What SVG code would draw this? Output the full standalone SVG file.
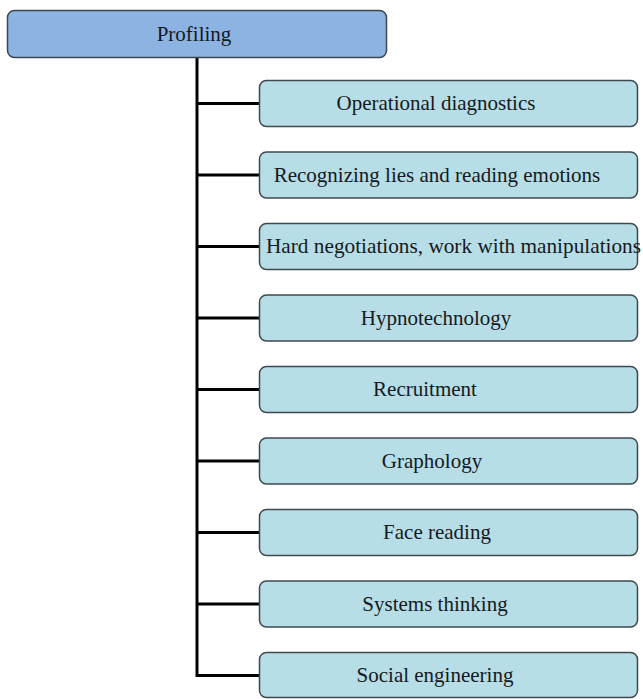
<svg xmlns="http://www.w3.org/2000/svg" width="643" height="699" viewBox="0 0 643 699">
<style>
.root{fill:#8DB3E2;stroke:#3f4650;stroke-width:1.5}
.box{fill:#B7DDE6;stroke:#3f4a4e;stroke-width:1.5}
.t{font-family:"Liberation Serif","Times New Roman",serif;font-size:21px;fill:#141a22;text-anchor:middle}
.c{stroke:#000;stroke-width:3;fill:none}
</style>
<rect width="643" height="699" fill="#fff"/>
<g id="connectors">
<path class="c" d="M197 58V677"/>
<path class="c" d="M197 103.5H259M197 175H259M197 246.5H259M197 318H259M197 389.5H259M197 461H259M197 532.5H259M197 604H259M197 675.5H259"/>
</g>
<g id="n0"><rect class="root" x="7.5" y="10.5" width="379" height="47" rx="7"/><text class="t" x="194" y="41">Profiling</text></g>
<g id="n1"><rect class="box" x="259.5" y="80.5" width="378" height="46" rx="7"/><text class="t" x="436" y="110">Operational diagnostics</text></g>
<g id="n2"><rect class="box" x="259.5" y="152" width="378" height="46" rx="7"/><text class="t" x="437" y="181.5">Recognizing lies and reading emotions</text></g>
<g id="n3"><rect class="box" x="259.5" y="223.5" width="378" height="46" rx="7"/><text class="t" x="266" y="253" style="text-anchor:start" textLength="375" lengthAdjust="spacingAndGlyphs">Hard negotiations, work with manipulations</text></g>
<g id="n4"><rect class="box" x="259.5" y="295" width="378" height="46" rx="7"/><text class="t" x="436" y="324.5">Hypnotechnology</text></g>
<g id="n5"><rect class="box" x="259.5" y="366.5" width="378" height="46" rx="7"/><text class="t" x="425" y="396">Recruitment</text></g>
<g id="n6"><rect class="box" x="259.5" y="438" width="378" height="46" rx="7"/><text class="t" x="432" y="467.5">Graphology</text></g>
<g id="n7"><rect class="box" x="259.5" y="509.5" width="378" height="46" rx="7"/><text class="t" x="437" y="539">Face reading</text></g>
<g id="n8"><rect class="box" x="259.5" y="581" width="378" height="46" rx="7"/><text class="t" x="435" y="610.5">Systems thinking</text></g>
<g id="n9"><rect class="box" x="259.5" y="652.5" width="378" height="45" rx="7"/><text class="t" x="435" y="682">Social engineering</text></g>
</svg>
